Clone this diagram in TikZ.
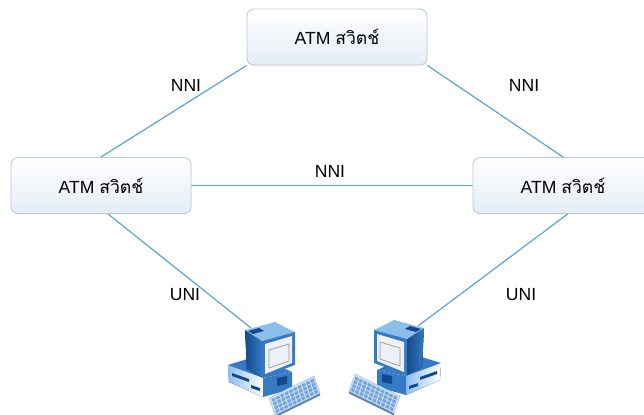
\documentclass[tikz,border=0pt]{standalone}
\usepackage{fontspec}
\setmainfont{Liberation Sans}
\newfontfamily\thaifont[Script=Thai]{Loma}
\usetikzlibrary{positioning,shadows,backgrounds}
\definecolor{wire}{RGB}{90,162,208}
\definecolor{boxline}{RGB}{190,202,215}
\definecolor{boxbot}{RGB}{228,236,245}
\definecolor{pcdark}{RGB}{22,72,140}
\definecolor{pcmid}{RGB}{52,122,196}
\definecolor{pclight}{RGB}{140,190,235}
\definecolor{pcscreen}{RGB}{236,241,248}
\definecolor{keybg}{RGB}{205,225,245}
\definecolor{keycap}{RGB}{118,165,215}
\newcommand{\swname}{ATM {\thaifont สวิตช์}}
\tikzset{
  swbox/.style={draw=boxline,line width=0.8pt,rounded corners=6pt,top color=white,bottom color=boxbot,
    minimum width=5.4cm,minimum height=1.68cm,font=\fontsize{15}{18}\selectfont,
    drop shadow={opacity=0.08,shadow xshift=1pt,shadow yshift=-1.2pt}},
  link/.style={wire,line width=1pt},
  lbl/.style={font=\fontsize{15}{18}\selectfont},
  pc/.pic={
    % system case
    \fill[pcmid] (-37,0) -- (-8,-9) -- (27,7) -- (-2,13) -- cycle;
    \fill[left color=pclight,right color=white] (-37,0) -- (-2,13) -- (-2,32) -- (-36,17) -- cycle;
    \fill[pcmid] (-2,13) -- (27,7) -- (27,24) -- (-2,32) -- cycle;
    \fill[pcdark] (-33,8) -- (-16,14) -- (-16,17) -- (-33,11) -- cycle;
    \fill[pcdark] (-14,20) -- (-5,23) -- (-5,26) -- (-14,23) -- cycle;
    \fill[pcdark] (12,13) -- (22,11) -- (22,19) -- (12,21) -- cycle;
    % monitor
    \fill[left color=pcdark,right color=pcmid] (-20,-35) -- (-3,-24) -- (-3,12) -- (-18,4) -- cycle;
    \fill[pclight] (-20,-35) -- (10,-43) -- (30,-33) -- (-3,-24) -- cycle;
    \fill[pcdark] (-17,-34) -- (-6,-37) -- (-1,-34) -- (-12,-31) -- cycle;
    \fill[pcmid] (-3,-24) -- (30,-33) -- (30,0) -- (-3,12) -- cycle;
    \fill[white!88!gray] (0,-21) -- (27,-29) -- (27,-2) -- (0,9) -- cycle;
    \fill[pcscreen,draw=gray!80,line width=0.6pt] (4,-15) -- (24,-21) -- (24,-4) -- (4,3) -- cycle;
    % keyboard
    \fill[keycap!80!black] (10,50) -- (55,28) -- (55,30.5) -- (10,52.5) -- cycle;
    \fill[keybg,draw=keycap!70] (4,33) -- (49,11) -- (55,28) -- (10,50) -- cycle;
    \foreach \i in {0,...,9}
      \foreach \j in {0,...,3}
        \fill[keycap] ({6.5+\i*4.3+\j*1.25},{34-\i*2.1+\j*3.75}) -- ++(3.3,-1.6) -- ++(1,2.9) -- ++(-3.3,1.6) -- cycle;
    \coordinate (-jack) at (-14,-37);
  }
}
\begin{document}
\begin{tikzpicture}[x=0.03cm,y=-0.03cm]
  \useasboundingbox (0,0) rectangle (644,414);
  % switches
  \node[swbox] (top) at (337,37) {\swname};
  \node[swbox] (left) at (101,185.5) {\swname};
  \node[swbox] (right) at (563,185.5) {\swname};
  % user terminals
  \pic (pcA) at (265,365) {pc};
  \pic[xscale=-1] (pcB) at (404,363) {pc};
  % links
  \begin{scope}[on background layer]
    \draw[link] (top.south west) -- (left.north);
    \draw[link] (top.south east) -- (right.north);
    \draw[link] (left.east) -- (right.west);
    \draw[link] ([xshift=6pt]left.south) -- (pcA-jack);
    \draw[link] ([xshift=4pt]right.south) -- (pcB-jack);
  \end{scope}
  \node[lbl] (nniA) at (186,85) {NNI};
  \node[lbl] (nniB) at (524,85) {NNI};
  \node[lbl] (nniC) at (330,171) {NNI};
  \node[lbl] (uniA) at (185,295) {UNI};
  \node[lbl] (uniB) at (521,295) {UNI};
\end{tikzpicture}
\end{document}
